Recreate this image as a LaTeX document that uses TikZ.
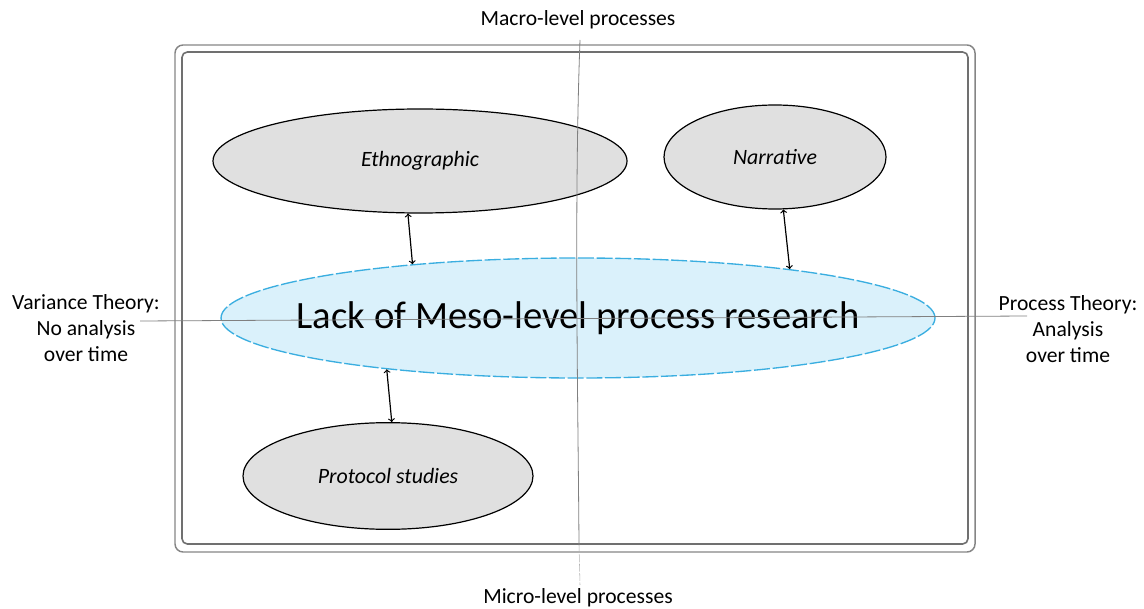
\documentclass[tikz,border=0pt]{standalone}
\usepackage{fontspec}
\setmainfont{Carlito}
\usepackage{xcolor}
\usetikzlibrary{shapes.geometric}
\definecolor{framegray}{HTML}{707070}
\definecolor{ovalgray}{HTML}{E0E0E0}
\definecolor{mesofill}{HTML}{DAF1FB}
\definecolor{mesoline}{HTML}{3AAEE0}

\begin{document}
\begin{tikzpicture}[x=0.75pt,y=-0.75pt,
    oval/.style={ellipse,draw=black,fill=ovalgray,line width=0.9pt,inner sep=0pt,font=\fontsize{16.4}{19}\selectfont\itshape},
    meso/.style={ellipse,draw=mesoline,dash pattern=on 12pt off 2pt,fill=mesofill,line width=1pt,inner ysep=0pt,inner xsep=-30pt,font=\fontsize{29}{34}\selectfont},
    lbl/.style={font=\fontsize{16.2}{19.2}\selectfont,align=center},
    axisline/.style={draw=gray,line width=0.6pt},
    link/.style={<->,>=to,line width=0.9pt}]
    \useasboundingbox (0,0) rectangle (1144,609);
    % frame
    \draw[framegray!85,line width=1.1pt,rounded corners=6pt] (175,45) rectangle (975,552);
    \draw[framegray,line width=1.2pt,rounded corners=4pt] (182,52) rectangle (968,544);
    % axis labels
    \node[lbl] (macro) at (578,20) {Macro-level processes};
    \node[lbl] (micro) at (578,598) {Micro-level processes};
    \node[lbl] (variance) at (86,328) {Variance Theory:\\No analysis\\over time};
    \node[lbl] (process) at (1068,329) {Process Theory:\\Analysis\\over time};
    \coordinate (hleft) at (140,321);
    \coordinate (hright) at (1027,316);
    \coordinate (vtop) at (580,40);
    \coordinate (vmid) at (579,545);
    \coordinate (vbot) at (580,585);
    % ovals
    \node[meso,minimum width=535.5pt,minimum height=90pt] (lack) at (578,318) {Lack of Meso-level process research};
    \node[oval,minimum width=310.5pt,minimum height=78pt] (eth) at (420,161) {Ethnographic};
    \node[oval,minimum width=166.5pt,minimum height=78pt] (narr) at (775,157) {Narrative};
    \node[oval,minimum width=217.5pt,minimum height=80pt] (proto) at (388,476) {Protocol studies};
    % axes
    \draw[axisline] (hleft) -- (hright);
    \draw[axisline] (vtop) .. controls (574,200) and (578,400) .. (vmid);
    \draw[axisline,gray!60,dash pattern=on 6pt off 1pt,line width=0.4pt] (vmid) -- (vbot);
    % links
    \draw[link] (eth.257) -- (lack.162.5);
    \draw[link] (narr.279) -- (lack.13.5);
    \draw[link] (lack.195) -- (proto.86);
\end{tikzpicture}
\end{document}
